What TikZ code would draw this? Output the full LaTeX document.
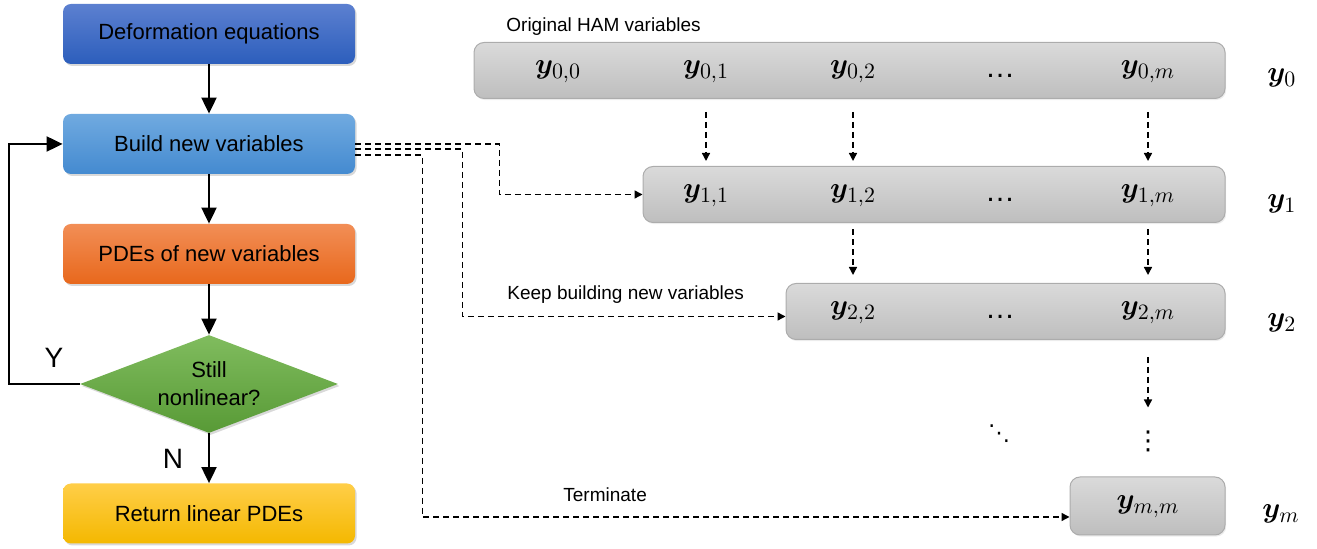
\documentclass[tikz,border=0pt]{standalone}
\usepackage{fontspec}
\setmainfont{Liberation Sans}
\newfontfamily\dejavu{DejaVu Sans}
\usepackage{amsmath,bm}
\usetikzlibrary{arrows.meta,shapes.geometric,shadows,calc}
\definecolor{deftop}{RGB}{92,128,208}
\definecolor{defbot}{RGB}{44,94,188}
\definecolor{bldtop}{RGB}{112,170,224}
\definecolor{bldbot}{RGB}{68,138,208}
\definecolor{pdetop}{RGB}{242,142,86}
\definecolor{pdebot}{RGB}{232,104,28}
\definecolor{diatop}{RGB}{128,188,94}
\definecolor{diabot}{RGB}{88,154,54}
\definecolor{rettop}{RGB}{255,206,72}
\definecolor{retbot}{RGB}{244,184,0}
\definecolor{rowtop}{RGB}{218,218,218}
\definecolor{rowbot}{RGB}{190,190,190}
\definecolor{rowborder}{RGB}{172,172,172}
\newcommand{\vy}[1]{$\bm{y}_{#1}$}
\begin{document}
\begin{tikzpicture}[x=0.5pt,y=-0.5pt,
  flowbox/.style={rectangle, rounded corners=4pt, minimum width=146pt, minimum height=30pt,
    inner sep=0pt, font=\fontsize{11}{13}\selectfont,
    drop shadow={opacity=0.3, shadow xshift=0.8pt, shadow yshift=-1pt}},
  rowbox/.style={rectangle, rounded corners=5pt, draw=rowborder, line width=0.5pt,
    top color=rowtop, bottom color=rowbot, minimum height=28pt, inner sep=0pt,
    drop shadow={opacity=0.15, shadow xshift=0.6pt, shadow yshift=-0.8pt}},
  ent/.style={anchor=base, inner sep=0pt, font=\fontsize{15.5}{18}\selectfont},
  dts/.style={anchor=base, inner sep=0pt, font=\fontsize{15}{18}\selectfont},
  lbl/.style={anchor=west, inner sep=0pt, font=\fontsize{9.5}{11}\selectfont},
  yn/.style={inner sep=0pt, font=\fontsize{14}{16}\selectfont},
  solarr/.style={line width=1pt, -{Triangle[length=8pt,width=7.5pt]}},
  darr/.style={line width=0.7pt, dash pattern=on 3pt off 2pt, -{Triangle[length=4pt,width=4pt]}}
]
\useasboundingbox (0,0) rectangle (1317,549);

% flowchart
\node[flowbox, top color=deftop, bottom color=defbot] (b1) at (209,34) {Deformation equations};
\node[flowbox, top color=bldtop, bottom color=bldbot] (b2) at (209,144) {Build new variables};
\node[flowbox, top color=pdetop, bottom color=pdebot] (b3) at (209,254) {PDEs of new variables};
\node[diamond, aspect=2.63, minimum width=129pt, minimum height=49pt, inner sep=0pt,
  top color=diatop, bottom color=diabot, align=center,
  font=\fontsize{11}{14}\selectfont,
  drop shadow={opacity=0.3, shadow xshift=0.8pt, shadow yshift=-1pt}] (dia) at (209,384) {Still\\nonlinear?};
\node[flowbox, top color=rettop, bottom color=retbot] (b5) at (209,513.5) {Return linear PDEs};

\draw[solarr] (b1) -- (b2);
\draw[solarr] (b2) -- (b3);
\draw[solarr] (b3) -- (dia);
\draw[solarr] (dia) -- (b5);
\draw[solarr] (dia.west) -- ++(-71,0) |- (b2.west);
\node[yn] (ylab) at (54,358) {Y};
\node[yn] (nlab) at (173,459) {N};

% rows
\node[lbl] (orig) at (506,27) {Original HAM variables};
\node[rowbox, minimum width=375.5pt] (r0) at (849.5,70.5) {};
\node[rowbox, minimum width=291pt] (r1) at (934,194.5) {};
\node[rowbox, minimum width=219.5pt] (r2) at (1005.5,311.5) {};
\node[rowbox, minimum width=77.5pt, minimum height=29pt] (rm) at (1147.5,506) {};

\node[ent] (e00) at (558,74) {\vy{0,0}};
\node[ent] (e01) at (706,74) {\vy{0,1}};
\node[ent] (e02) at (853,74) {\vy{0,2}};
\node[dts] (e0d) at (1000,78) {…};
\node[ent] (e0m) at (1148,74) {\vy{0,m}};

\node[ent] (e11) at (706,198) {\vy{1,1}};
\node[ent] (e12) at (853,198) {\vy{1,2}};
\node[dts] (e1d) at (1000,202) {…};
\node[ent] (e1m) at (1148,198) {\vy{1,m}};

\node[ent] (e22) at (853,315) {\vy{2,2}};
\node[dts] (e2d) at (1000,319) {…};
\node[ent] (e2m) at (1148,315) {\vy{2,m}};

\node[ent] (emm) at (1148,509) {\vy{m,m}};

\node[ent, anchor=base west] (l0) at (1267,82) {\vy{0}};
\node[ent, anchor=base west] (l1) at (1267,208) {\vy{1}};
\node[ent, anchor=base west] (l2) at (1267,327) {\vy{2}};
\node[ent, anchor=base west] (lm) at (1262,518) {\vy{m}};

\node[inner sep=0pt, font=\dejavu\fontsize{13}{15}\selectfont] (vd) at (1148,441) {⋮};
\node[inner sep=0pt, font=\dejavu\fontsize{11}{13}\selectfont] (dd) at (999,434) {⋱};

% vertical dashed arrows
\draw[darr] ([yshift=-6.5pt]r0.south -| e01) -- ([yshift=2.5pt]r1.north -| e11);
\draw[darr] ([yshift=-6.5pt]r0.south -| e02) -- ([yshift=2.5pt]r1.north -| e12);
\draw[darr] ([yshift=-6.5pt]r0.south -| e0m) -- ([yshift=2.5pt]r1.north -| e1m);
\draw[darr] ([yshift=-3.25pt]r1.south -| e12) -- ([yshift=4pt]r2.north -| e22);
\draw[darr] ([yshift=-3.25pt]r1.south -| e1m) -- ([yshift=4pt]r2.north -| e2m);
\draw[darr] ([yshift=-8.5pt]r2.south -| e2m) -- ([yshift=-33.75pt]r2.south -| vd);

% dashed connectors from Build
\draw[darr] (b2.east) -- ++(144,0) |- (r1.west);
\draw[darr] ([yshift=-2.5pt]b2.east) -- ++(107,0) |- ([yshift=-2.5pt]r2.west);
\draw[darr] ([yshift=-5.5pt]b2.east) -- ++(67,0) |- ([yshift=-5.5pt]rm.west);

\node[lbl] (keep) at (507,295) {Keep building new variables};
\node[lbl] (term) at (563,495) {Terminate};
\end{tikzpicture}
\end{document}
